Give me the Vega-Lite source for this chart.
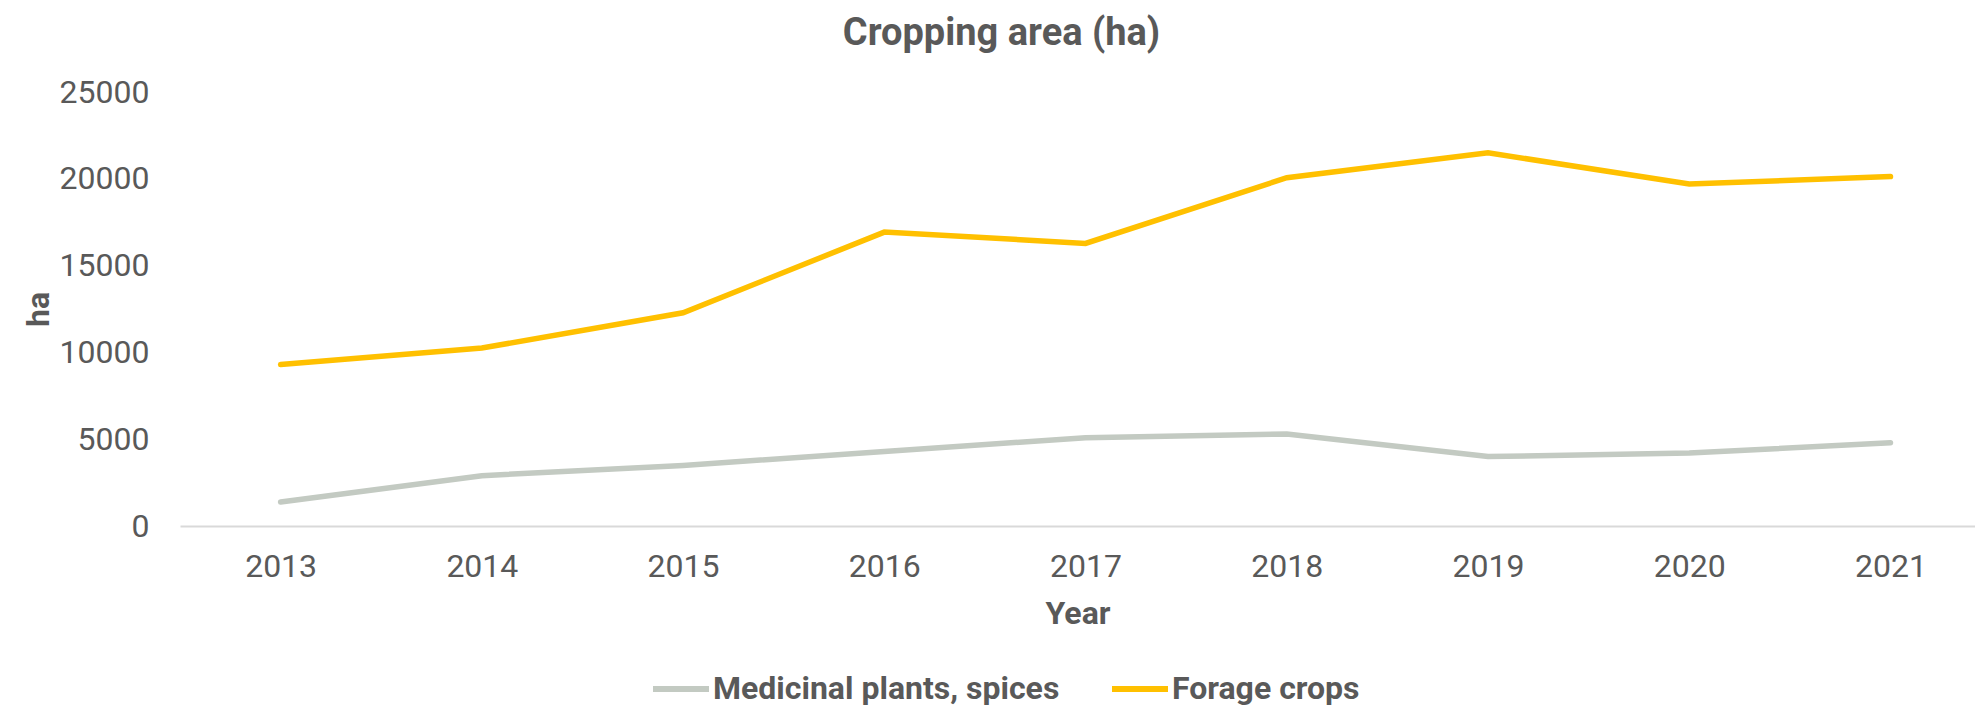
{
  "$schema": "https://vega.github.io/schema/vega-lite/v6.json",
  "autosize": {"type": "none"},
  "width": 1795,
  "height": 434,
  "padding": {"left": 180, "top": 92, "right": 0, "bottom": 182},
  "background": "white",
  "config": {
    "font": "Roboto",
    "view": {"stroke": null},
    "axis": {"labelFont": "Roboto", "titleFont": "Roboto", "labelColor": "#595959", "titleColor": "#595959"}
  },
  "title": {
    "text": "Cropping area (ha)",
    "font": "Roboto",
    "fontSize": 38,
    "fontWeight": "bold",
    "color": "#595959",
    "anchor": "middle",
    "dx": -76,
    "offset": 23
  },
  "data": {
    "values": [
      {"year": 2013, "series": "Medicinal plants, spices", "ha": 1380},
      {"year": 2014, "series": "Medicinal plants, spices", "ha": 2900},
      {"year": 2015, "series": "Medicinal plants, spices", "ha": 3490},
      {"year": 2016, "series": "Medicinal plants, spices", "ha": 4290},
      {"year": 2017, "series": "Medicinal plants, spices", "ha": 5090},
      {"year": 2018, "series": "Medicinal plants, spices", "ha": 5300},
      {"year": 2019, "series": "Medicinal plants, spices", "ha": 4000},
      {"year": 2020, "series": "Medicinal plants, spices", "ha": 4200},
      {"year": 2021, "series": "Medicinal plants, spices", "ha": 4800},
      {"year": 2013, "series": "Forage crops", "ha": 9300},
      {"year": 2014, "series": "Forage crops", "ha": 10250},
      {"year": 2015, "series": "Forage crops", "ha": 12280},
      {"year": 2016, "series": "Forage crops", "ha": 16930},
      {"year": 2017, "series": "Forage crops", "ha": 16280},
      {"year": 2018, "series": "Forage crops", "ha": 20060},
      {"year": 2019, "series": "Forage crops", "ha": 21500},
      {"year": 2020, "series": "Forage crops", "ha": 19700},
      {"year": 2021, "series": "Forage crops", "ha": 20130}
    ]
  },
  "mark": {"type": "line", "strokeWidth": 5.5, "strokeCap": "round", "strokeJoin": "miter"},
  "encoding": {
    "x": {
      "field": "year",
      "type": "quantitative",
      "scale": {"domain": [2012.5, 2021.42], "nice": false, "zero": false},
      "axis": {
        "title": "Year",
        "titleFontSize": 32,
        "titleFontWeight": "bold",
        "titleBaseline": "middle",
        "titleY": 87,
        "values": [2013, 2014, 2015, 2016, 2017, 2018, 2019, 2020, 2021],
        "format": "d",
        "labelFontSize": 32,
        "labelBaseline": "middle",
        "labelPadding": 40,
        "ticks": false,
        "grid": false,
        "domainColor": "#D9D9D9",
        "domainWidth": 2,
        "labelFlush": false,
        "labelOverlap": false
      }
    },
    "y": {
      "field": "ha",
      "type": "quantitative",
      "scale": {"domain": [0, 25000], "nice": false},
      "axis": {
        "title": "ha",
        "titleFontSize": 32,
        "titleFontWeight": "bold",
        "titleBaseline": "middle",
        "titleX": -142,
        "values": [0, 5000, 10000, 15000, 20000, 25000],
        "format": "d",
        "labelFontSize": 32,
        "labelPadding": 31,
        "ticks": false,
        "grid": false,
        "domain": false,
        "labelOverlap": false
      }
    },
    "color": {
      "field": "series",
      "type": "nominal",
      "sort": ["Medicinal plants, spices", "Forage crops"],
      "scale": {"domain": ["Medicinal plants, spices", "Forage crops"], "range": ["#C3CAC2", "#FFC000"]},
      "legend": {
        "title": null,
        "orient": "none",
        "direction": "horizontal",
        "legendX": 470,
        "legendY": 566,
        "labelFontSize": 32,
        "labelFontWeight": "bold",
        "labelColor": "#595959",
        "labelFont": "Roboto",
        "symbolType": "stroke",
        "symbolSize": 3136,
        "symbolStrokeWidth": 6,
        "labelOffset": 1,
        "columnPadding": 40,
        "labelLimit": 600
      }
    }
  }
}
